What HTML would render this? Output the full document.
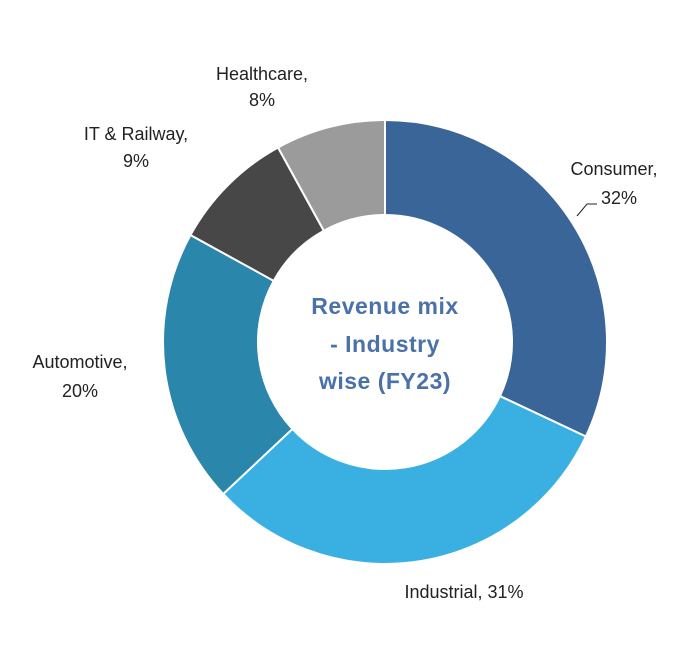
<!DOCTYPE html>
<html><head><meta charset="utf-8">
<style>
html,body{margin:0;padding:0;background:#fff;}
svg text{font-family:"Liberation Sans",sans-serif;}
</style></head>
<body>
<svg id="s" width="682" height="650" viewBox="0 0 682 650" xmlns="http://www.w3.org/2000/svg">
<rect width="682" height="650" fill="#fff"/>
<g id="slices"></g>
<g font-size="18" fill="#222" text-anchor="middle">
<text x="262" y="80">Healthcare,</text>
<text x="262" y="106">8%</text>
<text x="136" y="140">IT &amp; Railway,</text>
<text x="136" y="167">9%</text>
<text x="614" y="175">Consumer,</text>
<text x="619" y="204">32%</text>
<text x="80" y="368">Automotive,</text>
<text x="80" y="397">20%</text>
<text x="464" y="598">Industrial, 31%</text>
</g>
<polyline points="577,216 587,204 597,204" fill="none" stroke="#222" stroke-width="1"/>
<g font-size="23" font-weight="bold" fill="#4a72a8" text-anchor="middle" letter-spacing="0.5">
<text x="385" y="314">Revenue mix</text>
<text x="385" y="352">- Industry</text>
<text x="385" y="389">wise (FY23)</text>
</g>
</svg>
<script>
var cx=385,cy=342,R=222,r=127;
var d=[[32,"#3a6598"],[31,"#3ab0e2"],[20,"#2a86ab"],[9,"#474747"],[8,"#9b9b9b"]];
var a=0,g=document.getElementById("slices"),h="";
function p(rad,ang){return [cx+rad*Math.sin(ang),cy-rad*Math.cos(ang)];}
d.forEach(function(s){
 var a0=a/100*2*Math.PI;a+=s[0];var a1=a/100*2*Math.PI;
 var L=(a1-a0)>Math.PI?1:0;
 var o0=p(R,a0),o1=p(R,a1),i1=p(r,a1),i0=p(r,a0);
 h+='<path d="M'+o0+' A'+R+','+R+' 0 '+L+' 1 '+o1+' L'+i1+' A'+r+','+r+' 0 '+L+' 0 '+i0+' Z" fill="'+s[1]+'" stroke="#fff" stroke-width="2"/>';
});
g.innerHTML=h;
</script>
</body></html>
